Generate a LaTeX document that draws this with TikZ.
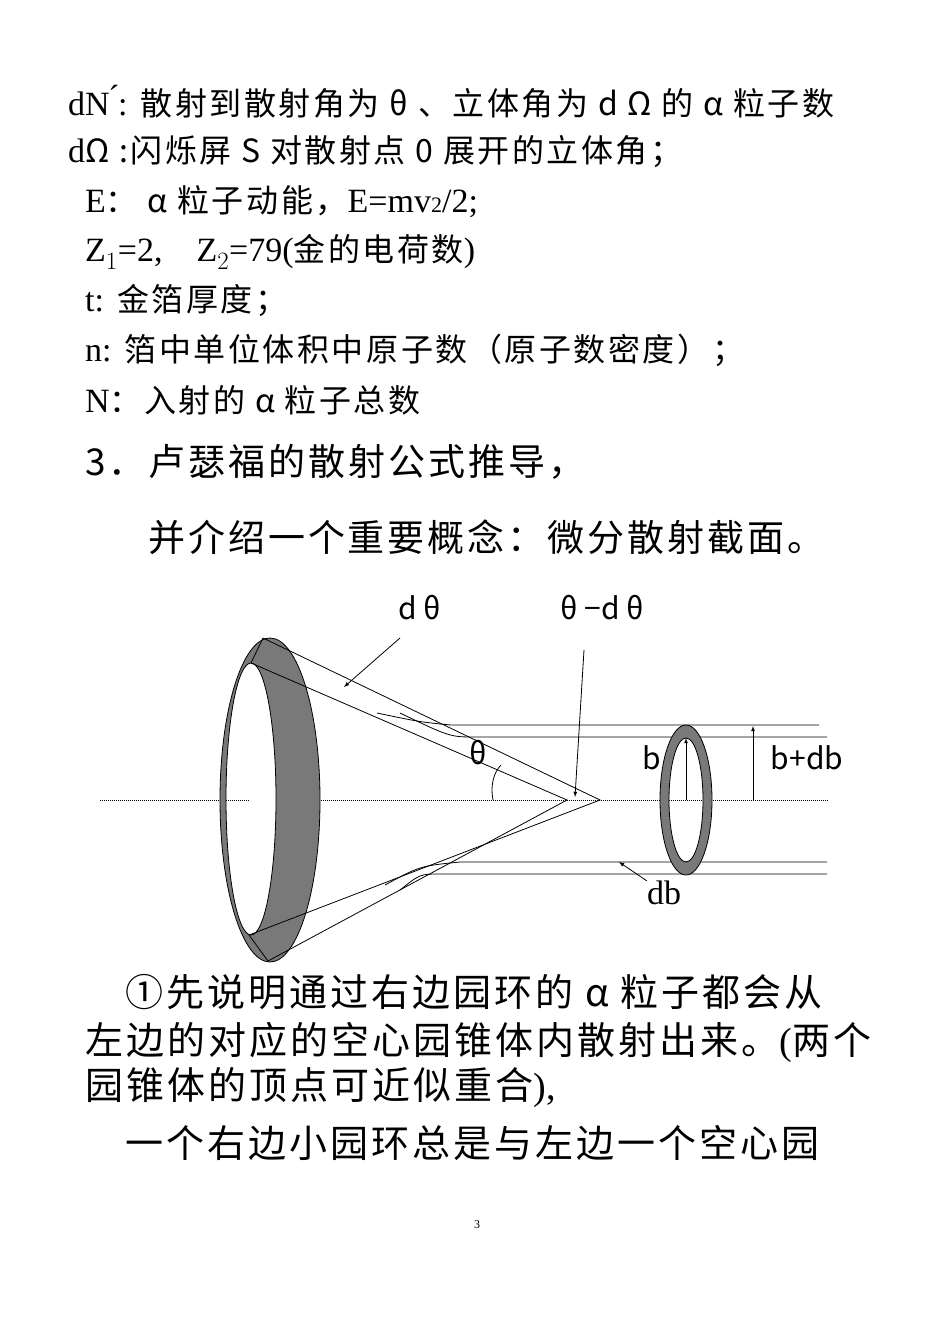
\documentclass[tikz,border=0pt]{standalone}
\usepackage{fontspec}
\setmainfont{Liberation Serif}
\newfontfamily\cjk[LetterSpace=8]{Noto Sans CJK SC}
\newfontfamily\cjkp{Noto Sans CJK SC}
\newcommand{\hz}[1]{{\fontsize{32}{32}\selectfont\cjk #1}}
\newcommand{\hzb}[1]{{\cjk #1}}
\begin{document}
\begin{tikzpicture}[x=1pt,y=-1pt,
  txt/.style={anchor=west,inner sep=0pt,font=\fontsize{34}{34}\selectfont},
  big/.style={anchor=west,inner sep=0pt,font=\fontsize{37}{37}\selectfont},
  par/.style={anchor=west,inner sep=0pt,font=\fontsize{38}{38}\selectfont},
  lab/.style={inner sep=0pt,font=\fontsize{30}{30}\selectfont\cjkp},
  ln/.style={line width=0.8pt},
  ar/.style={ln,-latex}]
\useasboundingbox (0,0) rectangle (950,1344);
% text
\node[txt] (l1) at (68,102) {dN\'{}:\hz{ 散射到散射角为 θ 、立体角为 d Ω 的 α 粒子数}};
\node[txt] (l2) at (68,152) {d\hz{Ω :闪烁屏 S 对散射点 0 展开的立体角；}};
\node[txt] (l3) at (85,202) {E\hz{： α 粒子动能，}E=mv{\fontsize{22}{22}\selectfont 2}/2;};
\node[txt] (l4) at (85,252) {Z$_1$=2,\quad Z$_2$=79(\hz{金的电荷数})};
\node[txt] (l5) at (85,300) {t:\hz{ 金箔厚度；}};
\node[txt] (l6) at (85,350) {n:\hz{ 箔中单位体积中原子数（原子数密度）；}};
\node[txt] (l7) at (85,400) {N\hz{：入射的 α 粒子总数}};
\node[big] (h1) at (85,462) {\hzb{3．卢瑟福的散射公式推导，}};
\node[big] (h2) at (148,537) {\hzb{并介绍一个重要概念：微分散射截面。}};
\node[par] (p1) at (125,992) {\hzb{①先说明通过右边园环的 α 粒子都会从}};
\node[par] (p2) at (85,1042) {\hzb{左边的对应的空心园锥体内散射出来。}(\hzb{两个}};
\node[par] (p3) at (85,1087) {\hzb{园锥体的顶点可近似重合}),};
\node[par] (p4) at (125,1143) {\hzb{一个右边小园环总是与左边一个空心园}};
\node[inner sep=0pt,font=\fontsize{12}{12}\selectfont] (pg) at (477,1225) {3};
% axis
\draw[densely dotted,line width=1pt] (100,800) -- (250,800);
\draw[densely dotted,line width=1pt] (319,800) -- (829,800);
% big ring
\fill[gray!95!black,even odd rule] (270,800) ellipse [x radius=50,y radius=162] (251,799) ellipse [x radius=25,y radius=136];
\draw[ln] (270,800) ellipse [x radius=50,y radius=162];
\draw[ln] (251,799) ellipse [x radius=25,y radius=136];
\coordinate (ot) at (263,638);
\coordinate (it) at (251,663);
\coordinate (ob) at (268,961);
\coordinate (ib) at (249,935);
\coordinate (a1) at (567,800);
\coordinate (a2) at (600,800);
\draw[ln] (ot) -- (it);
\draw[ln] (ob) -- (ib);
\draw[ln] (ot) -- (a2) -- (ib);
\draw[ln] (it) -- (a1) -- (ob);
% horizontal lines
\draw[ln] (377,713) .. controls (420,722) .. (451,725) -- (819,725);
\draw[ln] (400,713) .. controls (450,737) .. (476,737) -- (827,737);
\draw[ln] (385,885) .. controls (420,866) .. (460,862) -- (827,862);
\draw[ln] (400,890) .. controls (420,874) .. (440,874) -- (827,874);
% small ring
\fill[gray!95!black,even odd rule] (686,800) ellipse [x radius=26,y radius=75] (686,800) ellipse [x radius=17,y radius=62];
\draw[ln] (686,800) ellipse [x radius=26,y radius=75];
\draw[ln] (686,800) ellipse [x radius=17,y radius=62];
% arrows
\coordinate (bb) at (686,800);
\coordinate (bt) at (686,738);
\draw[ar] (bb) -- (bt);
\coordinate (cb) at (753,800);
\coordinate (ct) at (753,726);
\draw[ar] (cb) -- (ct);
\node[lab] (b) at (652,758) {b};
\node[lab] (bdb) at (807,758) {b+db};
\node[lab] (th) at (478,753) {θ};
\draw[ln] (493,800) .. controls (490,785) and (494,772) .. (501,765);
\node[inner sep=0pt,font=\fontsize{34}{34}\selectfont] (db) at (664,893) {db};
\coordinate (dbt) at (619,862);
\draw[ar] (db.north west) -- (dbt);
\node[lab] (dth) at (420,608) {d θ};
\node[lab] (tdt) at (602,608) {θ −d θ};
\coordinate (dtt) at (344,687);
\draw[ar] (400,638) -- (dtt);
\draw[ar] (584,650) -- (575,797);
\end{tikzpicture}
\end{document}
